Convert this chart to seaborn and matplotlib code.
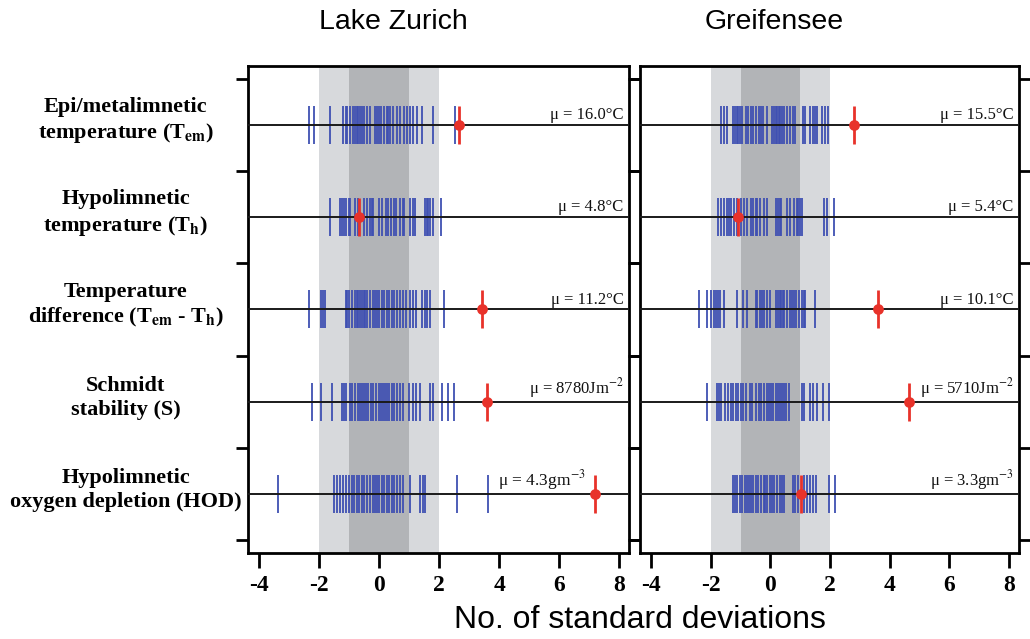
import numpy as np
import pandas as pd
import matplotlib
matplotlib.use("Agg")
import matplotlib.pyplot as plt
import matplotlib.transforms as mtransforms
import seaborn as sns

# --- data ---
lakes = ["Lake Zurich", "Greifensee"]
row_labels = [
    "Epi/metalimnetic\ntemperature (T$_{\\mathbf{em}}$)",
    "Hypolimnetic\ntemperature (T$_{\\mathbf{h}}$)",
    "Temperature\ndifference (T$_{\\mathbf{em}}$ - T$_{\\mathbf{h}}$)",
    "Schmidt\nstability (S)",
    "Hypolimnetic\noxygen depletion (HOD)",
]

# yearly anomalies (number of standard deviations), Lake Zurich
lz_epi = [-2.33, -2.17, -1.63, -1.21, -1.12, -1.06, -0.97, -0.88, -0.80, -0.74, -0.69, -0.63,
          -0.58, -0.52, -0.41, -0.30, -0.13, -0.08, -0.01, 0.06, 0.17, 0.26, 0.31, 0.37, 0.46,
          0.59, 0.68, 0.83, 0.92, 1.03, 1.14, 1.26, 1.42, 1.81, 2.53]
lz_hypo = [-1.63, -1.32, -1.23, -1.17, -1.10, -1.02, -0.97, -0.80, -0.72, -0.50, -0.41, -0.32,
           -0.24, -0.19, 0.01, 0.09, 0.23, 0.31, 0.39, 0.48, 0.57, 0.68, 0.79, 0.83, 1.03, 1.12,
           1.20, 1.53, 1.59, 1.64, 1.70, 1.79, 2.06]
lz_diff = [-2.33, -1.94, -1.86, -1.80, -1.10, -1.06, -0.99, -0.91, -0.80, -0.74, -0.69, -0.63,
           -0.58, -0.52, -0.47, -0.39, -0.30, -0.19, -0.13, -0.08, 0.01, 0.09, 0.17, 0.26, 0.34,
           0.42, 0.50, 0.59, 0.68, 0.79, 0.90, 1.03, 1.14, 1.23, 1.42, 1.53, 1.61, 1.70, 2.17]
lz_schmidt = [-2.24, -1.93, -1.58, -1.24, -1.17, -1.10, -0.97, -0.90, -0.80, -0.72, -0.63, -0.58,
              -0.50, -0.43, -0.36, -0.28, -0.19, -0.10, -0.02, 0.06, 0.12, 0.20, 0.26, 0.34, 0.42,
              0.50, 0.59, 0.70, 0.81, 0.98, 1.14, 1.23, 1.37, 1.70, 1.81, 2.09, 2.31, 2.48]
lz_hod = [-3.36, -1.50, -1.39, -1.30, -1.19, -1.10, -1.02, -0.91, -0.83, -0.74, -0.66, -0.58,
          -0.50, -0.41, -0.30, -0.21, -0.13, -0.08, 0.01, 0.09, 0.17, 0.26, 0.34, 0.42, 0.50,
          0.61, 0.70, 0.81, 1.03, 1.37, 1.46, 1.53, 2.59, 3.64]

# yearly anomalies, Greifensee
gr_epi = [-1.64, -1.55, -1.44, -1.27, -1.20, -1.13, -1.09, -1.02, -0.94, -0.83, -0.75, -0.66,
          -0.58, -0.47, -0.39, -0.31, -0.24, -0.13, 0.06, 0.11, 0.17, 0.22, 0.28, 0.33, 0.39,
          0.47, 0.55, 0.66, 0.75, 0.83, 1.09, 1.16, 1.33, 1.42, 1.50, 1.55, 1.72, 1.83, 1.94]
gr_hypo = [-1.75, -1.66, -1.55, -1.46, -1.38, -1.33, -1.22, -1.13, -1.00, -0.89, -0.80, -0.64,
           -0.58, -0.50, -0.44, -0.35, -0.20, -0.11, 0.20, 0.24, 0.31, 0.35, 0.55, 0.64, 0.78,
           0.89, 0.94, 1.00, 1.05, 1.79, 1.88, 2.13]
gr_diff = [-2.41, -2.13, -1.99, -1.90, -1.83, -1.75, -1.68, -1.57, -1.13, -0.91, -0.80, -0.50,
           -0.44, -0.35, -0.28, -0.20, -0.11, -0.02, 0.20, 0.24, 0.31, 0.35, 0.42, 0.47, 0.55,
           0.64, 0.72, 0.78, 0.86, 0.97, 1.05, 1.11, 1.16, 1.50]
gr_schmidt = [-2.13, -1.79, -1.72, -1.64, -1.53, -1.42, -1.33, -1.24, -1.16, -1.09, -1.00, -0.91,
              -0.83, -0.69, -0.61, -0.50, -0.39, -0.31, -0.22, -0.13, -0.06, 0.02, 0.09, 0.17,
              0.24, 0.31, 0.39, 0.47, 0.53, 0.61, 1.05, 1.11, 1.33, 1.42, 1.55, 1.77, 1.97]
gr_hod = [-1.27, -1.20, -1.11, -1.02, -0.94, -0.86, -0.78, -0.72, -0.66, -0.58, -0.50, -0.42,
          -0.33, -0.22, -0.17, -0.11, -0.02, 0.06, 0.13, 0.22, 0.31, 0.39, 0.47, 0.75, 0.83,
          0.94, 1.11, 1.22, 1.33, 1.44, 1.53, 1.97, 2.16]

# highlighted year (red marker)
lz_highlight = [2.67, -0.66, 3.44, 3.59, 7.20]
gr_highlight = [2.79, -1.09, 3.60, 4.65, 1.02]

# long-term means
lz_mu = ["μ = 16.0°C", "μ = 4.8°C", "μ = 11.2°C", "μ = 8780Jm$^{-2}$", "μ = 4.3gm$^{-3}$"]
gr_mu = ["μ = 15.5°C", "μ = 5.4°C", "μ = 10.1°C", "μ = 5710Jm$^{-2}$", "μ = 3.3gm$^{-3}$"]

xticks = [-4, -2, 0, 2, 4, 6, 8]
sd_bands = [2, 1]  # shaded +-2 sd and +-1 sd

# --- style ---
sns.set_theme(style="white")
plt.rcParams["font.family"] = ["Liberation Serif", "DejaVu Serif"]
plt.rcParams["mathtext.fontset"] = "stix"
plt.rcParams["text.color"] = "black"
plt.rcParams["xtick.color"] = "black"
plt.rcParams["ytick.color"] = "black"

blue = "#3f50b2"
red = "#e8322a"
band_colors = ["#d7d9dc", "#b2b4b7"]
sans = ["Liberation Sans", "DejaVu Sans"]

all_ticks = [[lz_epi, lz_hypo, lz_diff, lz_schmidt, lz_hod],
             [gr_epi, gr_hypo, gr_diff, gr_schmidt, gr_hod]]
all_high = [lz_highlight, gr_highlight]
all_mu = [lz_mu, gr_mu]

rows = np.arange(1, len(row_labels) + 1)

fig = plt.figure(figsize=(10.3, 6.39), dpi=100)
ax1 = fig.add_axes([0.2408, 0.1346, 0.3699, 0.7621])
ax2 = fig.add_axes([0.6214, 0.1346, 0.3679, 0.7621])
axes = [ax1, ax2]

for k, ax in enumerate(axes):
    # shaded bands
    for b, c in zip(sd_bands, band_colors):
        ax.axvspan(-b, b, color=c, lw=0, zorder=0)

    # rows
    for r in rows:
        ax.axhline(r, color="#1a1a1a", lw=1.4, zorder=3)

    # blue yearly ticks
    tick_df = pd.DataFrame(
        [(v, r) for r, vals in zip(rows, all_ticks[k]) for v in vals], columns=["sd", "row"]
    )
    sns.scatterplot(data=tick_df, x="sd", y="row", marker="|", s=760, color=blue,
                    linewidth=1.3, ax=ax, zorder=2, legend=False)

    # highlighted year
    high_df = pd.DataFrame({"sd": all_high[k], "row": rows})
    sns.scatterplot(data=high_df, x="sd", y="row", marker="|", s=760, color=red,
                    linewidth=2.0, ax=ax, zorder=4, legend=False)
    sns.scatterplot(data=high_df, x="sd", y="row", marker="o", s=60, color=red,
                    edgecolor=red, linewidth=0, ax=ax, zorder=5, legend=False)

    ax.set_xlim(-4.37, 8.33)
    ax.set_ylim(5.64, 0.36)
    ax.set_xlabel("")
    ax.set_ylabel("")

    # mean labels (moved left of the red marker when it sits at the right edge)
    for r, lab, hx in zip(rows, all_mu[k], all_high[k]):
        if hx > 6:
            ax.text(3.95, r - 0.02, lab, ha="left", va="bottom", fontsize=12.5,
                    color="#111111", zorder=6)
        else:
            ax.text(8.15, r - 0.02, lab, ha="right", va="bottom", fontsize=12,
                    color="#111111", zorder=6)

    ax.set_xticks(xticks)
    ax.set_xticklabels([str(t) for t in xticks], fontsize=17, fontweight="bold")
    ax.set_yticks(np.arange(len(rows) + 1) + 0.5)
    ax.tick_params(axis="x", direction="out", length=11, width=2, bottom=True, pad=5)
    ax.tick_params(axis="y", direction="out", length=9, width=2, left=True, right=True,
                   labelleft=False, labelright=False)
    for sp in ax.spines.values():
        sp.set_color("black")
        sp.set_linewidth(2)

# row labels on the left
trans = mtransforms.blended_transform_factory(fig.transFigure, ax1.transData)
for r, lab in zip(rows, row_labels):
    ax1.text(0.122, r - 0.04, lab, transform=trans, ha="center", va="center",
             fontsize=16, fontweight="bold", linespacing=1.25)

# titles and common x label
fig.text(0.382, 0.965, lakes[0], ha="center", va="center", fontsize=20.5, family=sans)
fig.text(0.752, 0.965, lakes[1], ha="center", va="center", fontsize=20.5, family=sans)
fig.text(0.621, 0.029, "No. of standard deviations", ha="center", va="center",
         fontsize=23, family=sans)

fig.savefig("out.png", dpi=100, facecolor="white")
